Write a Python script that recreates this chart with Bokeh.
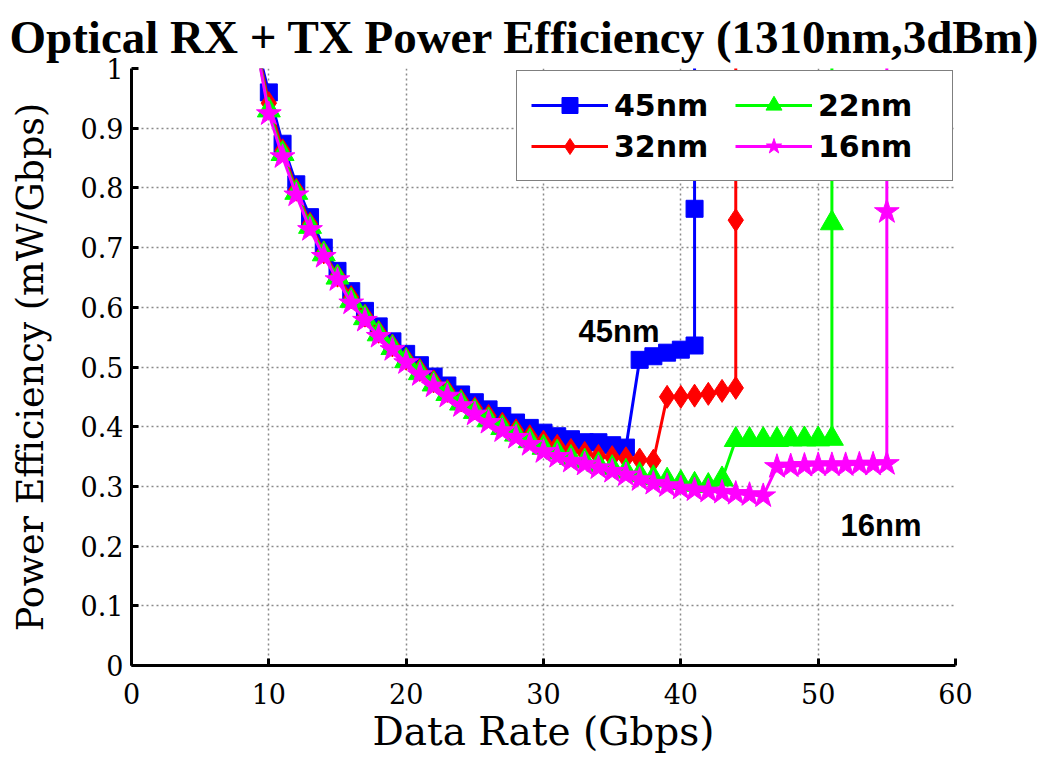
from bokeh.plotting import figure
from bokeh.models import Legend, LegendItem, Label, Range1d, FixedTicker
from bokeh.embed import file_html
from bokeh.resources import INLINE

# ---------------- data ----------------
x_45nm = [9, 10, 11, 12, 13, 14, 15, 16, 17, 18, 19, 20, 21, 22, 23, 24, 25, 26, 27, 28,
          29, 30, 31, 32, 33, 34, 35, 36, 37, 38, 39, 40, 41, 41, 41]
y_45nm = [1.05, 0.960, 0.874, 0.806, 0.751, 0.700, 0.661, 0.627, 0.594, 0.568, 0.543, 0.522,
          0.503, 0.484, 0.469, 0.454, 0.441, 0.429, 0.418, 0.407, 0.398, 0.390, 0.384, 0.379,
          0.374, 0.374, 0.369, 0.365, 0.512, 0.518, 0.524, 0.529, 0.536, 0.765, 1.30]

x_32nm = [9, 10, 11, 12, 13, 14, 15, 16, 17, 18, 19, 20, 21, 22, 23, 24, 25, 26, 27, 28,
          29, 30, 31, 32, 33, 34, 35, 36, 37, 38, 39, 40, 41, 42, 43, 44, 44, 44]
y_32nm = [1.05, 0.942, 0.863, 0.797, 0.740, 0.692, 0.653, 0.617, 0.586, 0.559, 0.536, 0.514,
          0.495, 0.476, 0.460, 0.444, 0.431, 0.418, 0.405, 0.394, 0.384, 0.375, 0.368, 0.361,
          0.356, 0.351, 0.349, 0.347, 0.345, 0.343, 0.450, 0.450, 0.452, 0.455, 0.460, 0.465,
          0.746, 1.30]

x_22nm = [9, 10, 11, 12, 13, 14, 15, 16, 17, 18, 19, 20, 21, 22, 23, 24, 25, 26, 27, 28,
          29, 30, 31, 32, 33, 34, 35, 36, 37, 38, 39, 40, 41, 42, 43, 44, 45, 46, 47, 48,
          49, 50, 51, 51, 51]
y_22nm = [1.05, 0.930, 0.857, 0.792, 0.735, 0.689, 0.650, 0.611, 0.582, 0.555, 0.532, 0.510,
          0.490, 0.471, 0.455, 0.439, 0.425, 0.411, 0.398, 0.387, 0.376, 0.365, 0.357, 0.348,
          0.342, 0.336, 0.331, 0.325, 0.319, 0.314, 0.310, 0.306, 0.303, 0.301, 0.312, 0.378,
          0.378, 0.378, 0.378, 0.379, 0.379, 0.379, 0.380, 0.741, 1.30]

x_16nm = [9, 10, 11, 12, 13, 14, 15, 16, 17, 18, 19, 20, 21, 22, 23, 24, 25, 26, 27, 28,
          29, 30, 31, 32, 33, 34, 35, 36, 37, 38, 39, 40, 41, 42, 43, 44, 45, 46, 47, 48,
          49, 50, 51, 52, 53, 54, 55, 55, 55]
y_16nm = [1.05, 0.924, 0.852, 0.788, 0.730, 0.685, 0.646, 0.607, 0.578, 0.551, 0.529, 0.507,
          0.487, 0.468, 0.451, 0.435, 0.421, 0.407, 0.393, 0.382, 0.370, 0.358, 0.350, 0.342,
          0.337, 0.331, 0.325, 0.319, 0.311, 0.305, 0.301, 0.297, 0.294, 0.292, 0.290, 0.288,
          0.286, 0.284, 0.333, 0.334, 0.335, 0.336, 0.336, 0.336, 0.337, 0.337, 0.338, 0.760,
          1.30]

series_names = ["45nm", "32nm", "22nm", "16nm"]
x_ticks = [0, 10, 20, 30, 40, 50, 60]
y_ticks = [0, 0.1, 0.2, 0.3, 0.4, 0.5, 0.6, 0.7, 0.8, 0.9, 1]
y_tick_labels = ["0", "0.1", "0.2", "0.3", "0.4", "0.5", "0.6", "0.7", "0.8", "0.9", "1"]

title_text = "Optical RX + TX Power Efficiency (1310nm,3dBm)"
note_texts = ["45nm", "16nm"]
note_x = [32.55, 51.63]
note_y = [0.559, 0.234]

# ---------------- figure ----------------
p = figure(width=1051, height=756, output_backend="svg", toolbar_location=None,
           x_range=Range1d(0, 60), y_range=Range1d(0, 1),
           min_border_left=131, min_border_right=96, min_border_top=68, min_border_bottom=89)
p.outline_line_color = None
p.background_fill_color = "white"
p.border_fill_color = "white"

p.title.text = title_text
p.title.text_font = "Liberation Serif"
p.title.text_font_style = "bold"
p.title.text_font_size = "47px"
p.title.text_color = "black"
p.title.align = "left"
p.title.standoff = 12
p.title.offset = -122

for ax in (p.xaxis[0], p.yaxis[0]):
    ax.axis_line_width = 3
    ax.axis_line_color = "black"
    ax.major_tick_in = 7
    ax.major_tick_out = 0
    ax.major_tick_line_width = 3
    ax.minor_tick_line_color = None
    ax.major_label_text_font = "DejaVu Serif"
    ax.major_label_text_font_size = "27px"
    ax.major_label_text_color = "black"
    ax.axis_label_text_font = "DejaVu Serif"
    ax.axis_label_text_font_style = "normal"
    ax.axis_label_text_color = "black"

p.xaxis.ticker = FixedTicker(ticks=x_ticks)
p.yaxis.ticker = FixedTicker(ticks=y_ticks)
p.yaxis.major_label_overrides = {t: s for t, s in zip(y_ticks, y_tick_labels)}
p.xaxis.axis_label = "Data Rate (Gbps)"
p.yaxis.axis_label = "Power Efficiency (mW/Gbps)"
p.xaxis.axis_label_text_font_size = "39px"
p.yaxis.axis_label_text_font_size = "36.5px"
p.xaxis.major_label_standoff = 17
p.xaxis.axis_label_standoff = 2
p.yaxis.major_label_standoff = 8
p.yaxis.axis_label_standoff = 26

for g in (p.xgrid[0], p.ygrid[0]):
    g.grid_line_color = "#8a8a8a"
    g.grid_line_dash = "2 3"
    g.grid_line_width = 1.5

# ---------------- series ----------------
specs = [
    (x_45nm, y_45nm, "#0000ff", "square", 17),
    (x_32nm, y_32nm, "#ff0000", "diamond", 23),
    (x_22nm, y_22nm, "#00ff00", "triangle", 23),
    (x_16nm, y_16nm, "#ff00ff", "star", 26),
]
items = []
for name, (xs, ys, col, mk, sz) in zip(series_names, specs):
    lr = p.line(xs, ys, line_color=col, line_width=3)
    sr = p.scatter(xs, ys, marker=mk, size=sz, fill_color=col, line_color=col, line_width=1)
    items.append(LegendItem(label=name, renderers=[lr, sr]))

legend = Legend(items=items, ncols=2, location="top_right", margin=2,
                padding=14, spacing=1, glyph_width=77, glyph_height=40,
                label_height=40, label_width=120, label_standoff=6,
                label_text_font="DejaVu Sans", label_text_font_style="bold",
                label_text_font_size="30px", label_text_color="black",
                border_line_color="black", border_line_width=1.5,
                background_fill_color="white", background_fill_alpha=1.0)
p.add_layout(legend, "center")

for t, xx, yy in zip(note_texts, note_x, note_y):
    p.add_layout(Label(x=xx, y=yy, text=t, text_font="Liberation Sans",
                       text_font_style="bold", text_font_size="31px",
                       text_color="black", text_baseline="alphabetic"))

open("out.html", "w").write(file_html(p, INLINE))
